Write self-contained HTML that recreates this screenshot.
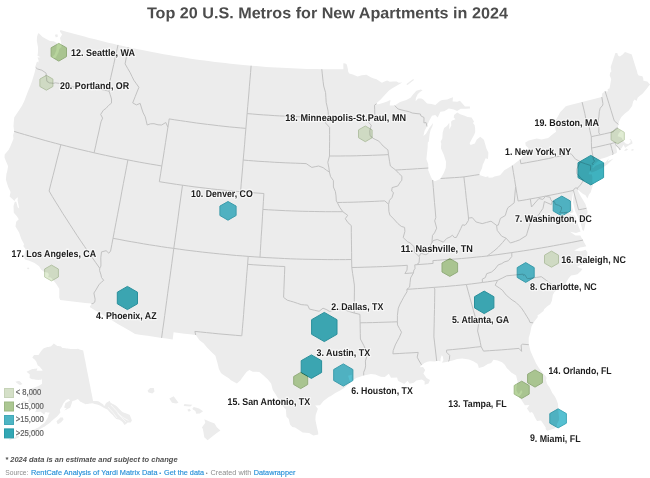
<!DOCTYPE html>
<html><head><meta charset="utf-8"><title>Top 20 U.S. Metros for New Apartments in 2024</title>
<style>
html,body{margin:0;padding:0;background:#fff;}
body{width:650px;height:478px;overflow:hidden;}
svg{display:block;font-family:"Liberation Sans",sans-serif;will-change:transform;}
.hx polygon{mix-blend-mode:multiply;stroke-linejoin:round;}
.lb text{font-size:9.8px;font-weight:bold;fill:#1c1c1c;paint-order:stroke;stroke:rgba(255,255,255,0.6);stroke-width:2.6px;stroke-linejoin:round;}
.lg text{font-size:8.6px;fill:#606060;stroke:#606060;stroke-width:0.2px;}
.ft text{font-size:7.7px;}
.ft .g{fill:#8c8c8c;}
.ft .b{fill:#2690d8;stroke:#2690d8;stroke-width:0.15px;}
.title{font-size:15.8px;font-weight:bold;fill:#4c4c4c;}
.note{font-size:8.1px;font-weight:bold;font-style:italic;fill:#505050;}
</style></head><body>
<svg width="650" height="478" viewBox="0 0 650 478">
<path d="M60.5,30.0L65.3,31.4L70.1,32.7L74.8,34.0L79.6,35.3L84.4,36.6L89.2,37.9L94.0,39.1L98.8,40.3L103.6,41.5L108.4,42.7L113.2,43.8L118.0,44.9L123.0,46.1L128.1,47.2L133.1,48.2L138.2,49.3L143.3,50.3L148.4,51.3L153.5,52.3L158.6,53.3L163.7,54.2L168.8,55.1L173.9,56.0L179.1,56.8L184.2,57.6L189.3,58.4L194.4,59.2L199.6,59.9L204.7,60.6L209.9,61.3L215.0,61.9L220.2,62.5L225.3,63.1L230.5,63.7L235.6,64.2L240.8,64.8L246.0,65.2L251.1,65.7L256.2,66.1L261.2,66.5L266.3,66.9L271.3,67.2L276.4,67.5L281.4,67.8L286.5,68.1L291.5,68.3L296.6,68.5L301.6,68.7L306.7,68.9L311.7,69.0L316.8,69.1L321.8,69.2L326.1,69.2L330.4,69.3L334.8,69.3L339.1,69.3L343.4,69.2L343.3,63.3L345.4,63.4L346.8,64.5L347.9,69.2L348.2,71.7L349.2,73.5L352.8,74.4L357.6,76.4L361.7,75.2L366.4,74.7L371.2,77.5L373.9,78.4L376.5,79.3L379.2,81.0L381.9,82.7L384.5,81.5L387.1,80.4L389.8,81.8L393.2,81.6L396.6,81.4L398.8,82.8L402.3,82.6L398.4,84.8L394.5,87.0L391.9,88.6L389.3,90.2L387.1,92.5L385.0,94.8L380.9,99.3L376.5,103.2L377.6,104.4L380.2,103.8L382.9,103.1L387.1,101.5L390.3,99.9L390.5,101.1L389.9,103.1L389.7,105.6L394.7,105.6L397.4,103.8L400.1,102.0L403.2,101.1L406.3,100.1L410.5,97.8L413.4,94.1L416.4,90.8L420.8,89.5L422.6,90.3L419.7,92.3L417.7,94.3L415.9,98.1L415.6,101.2L418.1,98.4L421.3,98.5L423.2,99.6L427.1,103.5L431.5,103.9L435.4,104.9L437.6,102.9L439.9,101.0L442.2,100.1L447.3,99.4L450.2,98.3L453.0,97.3L452.6,101.6L457.3,101.8L459.9,100.7L462.4,103.6L465.0,106.4L469.9,106.4L470.0,108.5L465.8,108.7L460.8,108.7L457.1,111.1L453.9,109.4L448.8,108.6L444.2,111.3L440.4,111.7L437.7,117.5L435.3,114.9L432.0,115.7L429.2,120.7L426.9,126.5L424.6,130.7L423.4,136.0L426.0,133.7L429.3,127.9L433.1,122.9L432.5,126.0L430.6,130.1L429.6,134.2L428.8,141.4L427.8,142.5L427.6,147.9L427.0,153.6L426.4,159.3L428.2,164.1L428.3,168.0L428.2,170.0L429.7,173.7L431.2,177.4L432.6,180.0L434.9,181.3L439.7,179.2L440.6,178.5L443.9,172.7L445.8,167.7L446.0,161.8L443.8,154.7L440.9,148.3L441.3,143.4L440.6,141.7L442.3,138.5L442.7,132.4L444.1,128.0L446.9,126.1L449.3,122.7L449.3,129.5L451.3,125.6L451.1,121.7L452.2,120.4L455.5,119.2L453.7,117.4L454.1,115.1L457.2,112.5L460.2,114.2L464.0,115.6L467.7,116.9L471.6,117.5L474.1,121.8L472.9,122.9L474.6,125.1L475.1,128.1L475.2,131.9L474.2,134.7L472.1,138.4L469.6,143.3L470.6,145.0L474.8,143.5L476.8,139.4L480.3,136.8L483.9,139.8L485.2,144.3L486.5,148.7L488.4,152.8L488.0,159.0L485.6,158.3L484.3,161.4L482.8,164.4L482.0,168.2L480.4,171.6L479.4,174.5L479.2,175.0L482.5,176.0L485.7,177.0L488.2,176.3L488.6,177.7L492.6,177.6L494.5,176.5L500.1,175.2L504.3,170.3L509.4,167.3L512.3,165.5L516.7,162.0L520.2,159.5L524.4,155.2L527.5,150.9L528.4,148.1L525.7,145.4L525.3,142.6L528.9,140.6L532.8,139.6L536.8,138.6L541.6,139.5L544.9,138.7L548.2,138.0L550.6,135.9L553.0,133.9L556.1,131.8L554.9,127.1L555.7,125.4L552.8,123.1L555.2,120.8L556.6,118.8L558.4,115.5L560.1,112.2L562.8,109.4L565.5,106.5L567.4,105.7L572.3,104.5L577.2,103.3L582.1,102.1L587.0,100.8L592.0,99.6L596.9,98.3L601.8,97.0L602.1,93.5L605.1,91.2L607.8,91.5L607.7,89.0L609.5,88.5L610.6,82.8L611.2,79.0L609.7,75.4L610.1,72.8L611.4,71.4L610.7,66.9L612.3,62.3L613.8,57.7L615.4,53.1L617.3,53.0L618.0,55.4L619.9,56.4L622.7,54.4L625.0,51.9L629.9,53.7L631.8,54.6L633.5,60.2L635.3,65.9L637.1,71.6L637.5,73.7L638.6,75.4L642.4,76.2L643.4,78.9L643.2,80.6L645.7,81.3L647.3,81.4L650.2,84.6L651.0,85.9L649.5,85.0L646.3,89.3L642.5,93.7L640.2,95.6L637.8,97.4L636.5,101.0L634.8,99.6L633.2,101.2L632.1,105.9L628.8,110.6L624.6,113.8L621.2,117.2L619.0,121.4L618.4,124.4L617.9,127.3L617.9,127.8L618.7,130.0L621.2,130.5L618.6,133.4L617.6,136.3L619.3,136.8L621.7,137.8L623.6,141.4L626.0,143.7L628.4,143.9L630.6,142.2L630.6,139.9L629.2,139.0L630.7,138.9L632.2,141.5L632.5,143.5L629.0,145.2L625.5,147.5L625.1,148.1L623.6,144.7L622.0,147.6L620.6,149.6L620.2,149.9L619.5,150.6L618.1,147.9L616.0,145.9L616.6,149.1L617.0,151.4L616.7,153.0L612.6,154.8L609.9,155.8L607.1,157.0L604.1,157.9L601.1,158.7L598.3,161.0L594.7,164.1L593.4,165.0L592.4,167.9L592.8,168.3L595.5,165.7L600.3,163.8L605.5,162.2L609.0,158.3L607.7,161.3L609.9,160.2L613.5,158.6L610.4,161.5L607.3,164.4L604.7,166.2L602.1,168.0L598.9,169.6L595.1,171.3L591.7,172.5L590.4,171.8L590.4,170.5L589.7,171.5L588.5,174.2L590.4,174.6L591.4,174.0L592.3,176.6L592.4,177.9L592.3,180.2L592.9,185.3L591.7,188.9L590.6,192.4L589.1,194.2L587.4,198.6L585.5,195.3L582.8,193.8L580.3,191.8L578.6,190.2L577.6,189.4L578.2,191.5L579.5,194.0L581.0,196.8L583.5,200.8L585.5,204.3L586.8,208.5L587.6,212.0L586.3,218.0L585.2,225.0L584.2,229.5L583.3,231.3L582.3,229.5L580.7,223.0L578.5,218.0L576.5,214.0L575.3,211.5L574.4,208.0L573.0,202.5L573.3,197.5L574.1,191.5L573.3,190.9L572.4,196.5L571.6,202.2L572.3,208.0L573.5,212.0L571.0,213.2L567.5,212.3L571.5,214.8L575.0,215.8L577.3,222.9L579.6,229.0L580.6,231.6L576.0,233.0L570.0,231.8L575.5,235.6L580.3,235.5L581.3,237.5L583.0,240.1L584.3,242.8L586.3,246.2L583.2,246.9L580.0,247.6L577.0,249.1L574.0,250.6L577.5,250.9L581.0,251.2L585.5,249.8L587.3,252.0L587.3,256.0L586.0,260.0L584.5,264.3L580.0,265.3L577.0,266.8L581.0,268.4L582.5,268.8L581.0,271.0L577.5,274.3L574.3,274.9L571.1,275.4L568.5,278.4L566.5,281.7L565.5,287.6L564.6,286.7L561.0,287.5L558.1,289.0L554.3,292.3L552.8,294.9L551.9,300.7L550.3,304.2L547.3,306.3L544.1,309.3L543.5,311.1L539.4,314.2L537.5,315.3L537.8,316.9L535.1,320.5L533.4,322.7L531.4,326.8L530.3,332.6L528.7,337.9L528.7,342.4L528.8,344.7L529.1,345.3L530.5,351.0L533.1,357.0L536.1,363.4L538.4,367.3L540.2,369.8L543.3,373.7L545.3,375.8L546.6,377.8L546.0,380.2L547.1,384.0L549.3,387.1L551.0,390.2L552.3,393.0L554.9,396.5L556.8,400.4L558.0,404.0L558.3,409.5L558.6,413.4L559.1,418.1L559.0,420.2L557.3,423.2L556.5,427.3L553.9,428.8L549.7,430.1L547.3,430.8L545.7,429.3L545.7,427.4L543.4,424.0L541.0,420.6L537.1,420.9L536.2,419.7L534.6,416.7L533.3,413.8L531.9,412.1L529.9,412.8L527.0,408.6L529.4,404.9L524.9,405.2L523.4,403.1L521.3,399.7L518.6,397.0L520.9,394.7L522.4,392.1L521.2,389.9L519.6,393.0L518.2,394.0L516.4,390.3L516.4,387.4L517.2,383.3L517.6,381.7L516.1,375.5L511.2,372.5L508.9,370.1L506.9,368.3L504.8,364.8L502.0,362.3L497.7,360.5L493.5,359.7L491.2,362.9L487.8,364.1L483.4,366.7L478.8,368.0L478.1,365.2L477.4,363.7L473.3,361.3L469.0,359.5L465.6,359.0L462.2,358.5L457.2,359.0L453.5,360.2L448.6,361.4L446.3,362.1L442.0,362.8L443.4,360.0L442.8,356.4L441.7,355.3L440.6,358.6L440.4,361.5L438.7,360.7L436.7,361.0L434.7,361.5L430.0,361.2L427.3,361.7L424.3,363.1L421.9,365.1L419.6,367.3L423.0,367.1L425.2,370.1L423.4,373.4L426.5,378.0L430.0,380.1L428.5,383.5L424.6,384.7L424.6,381.3L421.8,379.4L416.4,380.6L413.8,382.8L409.7,383.8L407.5,380.8L404.3,384.1L398.7,381.2L397.9,380.5L397.1,377.4L391.0,377.7L388.8,373.8L384.8,377.1L380.8,376.8L375.3,374.6L370.8,374.1L367.3,374.8L363.7,375.4L360.0,376.7L356.3,377.9L352.0,380.8L351.6,378.0L351.9,374.8L348.1,375.7L349.6,380.7L351.2,381.9L346.9,385.5L344.2,387.9L340.1,390.6L335.3,393.1L330.5,396.3L329.1,396.7L323.5,400.9L320.0,405.2L315.2,405.6L317.9,408.8L315.7,415.0L315.4,419.7L316.2,423.7L317.0,427.6L318.2,432.8L318.3,434.5L313.3,435.4L309.1,433.0L302.7,432.5L298.9,430.1L295.1,427.6L292.3,427.0L290.0,424.5L288.7,419.1L286.4,416.6L285.9,409.5L281.9,405.1L279.9,401.7L278.0,398.2L275.4,394.1L272.8,390.1L271.1,383.6L267.9,379.5L263.3,375.3L259.4,371.9L256.1,371.8L252.7,371.7L249.4,370.0L246.5,371.9L242.0,377.9L240.5,380.2L236.9,383.4L230.9,380.2L228.8,378.3L223.2,374.8L221.0,372.9L218.9,368.9L217.6,363.5L216.5,359.7L215.4,355.8L211.7,352.3L206.8,347.3L203.8,343.5L199.5,340.3L196.0,335.3L195.7,335.0L190.1,334.3L184.6,333.7L179.1,333.0L173.6,332.3L172.7,339.4L166.4,338.5L160.1,337.7L153.9,336.8L147.6,335.8L141.3,334.9L135.1,333.9L129.3,330.6L123.6,327.3L117.8,324.0L112.2,320.6L106.5,317.2L100.9,313.8L95.3,310.4L89.7,306.9L91.6,303.5L85.3,302.9L79.0,302.2L72.8,301.4L66.5,300.7L60.2,299.9L59.2,297.4L59.3,294.4L59.3,288.7L56.1,283.7L53.8,280.9L50.9,277.6L48.1,277.2L48.9,274.8L48.1,272.8L44.3,272.1L41.0,269.6L39.1,266.3L34.6,263.0L31.7,261.7L28.7,260.4L25.3,259.8L23.6,257.2L24.7,253.2L25.7,249.2L23.3,246.0L24.1,244.3L21.3,238.9L19.1,232.5L17.3,229.5L15.5,226.5L16.2,221.7L18.8,219.2L16.7,216.1L13.8,212.8L13.5,206.0L14.8,201.7L16.2,201.8L17.7,207.2L19.2,208.5L18.2,203.2L17.6,200.6L17.9,197.3L15.5,199.1L14.6,201.0L12.1,198.8L9.6,196.6L10.6,191.9L8.2,187.0L7.0,183.3L5.9,179.6L6.4,174.0L7.1,171.7L8.1,166.2L6.3,161.9L4.5,157.5L4.7,154.4L8.7,149.7L10.5,145.9L13.5,138.7L13.1,135.2L14.2,131.4L13.5,126.2L13.8,121.8L14.2,117.4L16.5,113.9L18.9,110.4L22.1,105.6L24.2,101.2L26.0,96.6L27.7,91.9L29.8,86.9L32.0,81.3L33.3,77.1L34.5,73.0L35.7,67.9L35.2,66.9L37.0,61.4L38.4,62.6L38.6,60.2L37.5,57.4L40.6,57.2L37.5,55.7L38.0,52.0L38.0,47.2L36.8,40.7L37.1,36.4L38.1,33.3L39.4,33.8L42.3,36.7L46.2,38.9L50.0,41.0L53.6,41.3L56.9,43.1L56.6,46.8L56.4,49.9L54.7,54.4L50.9,58.2L55.5,57.9L58.6,52.2L59.2,49.1L61.6,46.9L61.2,42.7L60.0,38.0L62.1,34.5L59.9,31.4L60.5,30.0ZM131.9,420.4L131.0,418.1L130.1,415.7L129.5,414.8L128.2,414.3L126.9,413.8L125.7,413.3L124.1,412.7L122.4,412.1L120.8,410.6L119.3,409.0L117.9,407.5L116.4,405.9L115.2,405.2L114.0,404.5L112.8,403.9L111.6,403.2L110.4,402.6L109.7,400.7L108.5,401.5L107.3,402.2L106.1,402.9L105.5,404.0L104.8,405.2L104.1,406.3L103.5,404.8L102.2,403.8L100.9,402.9L99.7,402.0L98.9,401.6L98.1,401.2L96.9,401.1L95.7,401.0L94.4,400.9L93.1,401.1L92.6,398.5L92.1,395.8L91.5,393.1L91.0,390.4L90.5,387.7L90.0,385.1L89.4,382.4L88.9,379.7L88.4,377.0L87.9,374.4L87.3,371.7L86.8,369.0L86.3,366.4L85.8,363.7L85.3,361.1L84.7,358.4L84.2,355.8L83.7,353.1L83.2,350.5L82.3,350.2L81.4,349.9L80.5,349.7L79.6,349.4L78.7,349.1L77.8,348.8L76.9,348.9L76.0,348.9L75.1,349.0L74.2,349.0L73.3,349.1L72.4,349.0L71.5,348.9L70.6,348.9L69.6,348.8L68.7,348.7L67.9,348.6L67.1,348.5L66.3,348.4L65.5,348.3L64.8,348.2L64.1,348.1L63.4,348.0L62.7,347.9L62.0,347.7L61.5,347.1L61.0,346.4L60.3,346.3L59.5,346.2L58.8,346.1L58.1,346.0L57.3,345.9L56.6,345.4L55.9,344.9L55.2,344.4L54.5,343.9L53.8,343.4L53.1,344.2L52.4,345.0L51.6,345.7L50.9,346.5L50.2,346.6L49.4,346.7L48.7,346.9L47.9,347.0L47.2,347.1L46.2,347.4L45.3,347.7L44.4,348.1L43.5,348.4L42.7,349.3L41.8,350.3L41.0,351.2L40.2,352.5L39.3,353.8L38.5,355.0L37.6,355.0L36.7,355.0L35.8,355.0L35.0,354.9L34.1,354.9L33.2,356.2L32.3,357.5L33.1,358.2L33.9,358.9L34.7,359.6L35.2,360.3L35.8,361.0L36.4,361.7L36.8,362.9L37.2,364.1L37.6,365.2L38.3,365.8L39.0,366.3L39.8,366.8L40.5,367.8L41.3,368.7L42.1,369.6L42.8,370.5L42.3,370.6L41.7,370.7L40.7,370.7L39.7,370.8L38.6,370.8L37.6,370.8L36.6,370.8L37.4,368.4L36.4,368.6L35.5,368.7L34.5,368.8L33.6,368.9L32.6,369.1L31.7,369.2L30.7,369.7L29.7,370.2L28.7,370.8L27.6,371.3L26.6,371.8L27.4,372.5L28.2,373.1L29.0,373.8L29.8,374.4L29.7,376.2L29.6,378.1L30.6,378.5L31.6,379.0L32.7,379.2L33.8,379.3L34.9,379.5L36.0,379.7L37.1,379.8L38.2,379.9L39.3,379.8L40.3,379.8L41.4,379.8L42.0,378.2L42.0,380.7L42.0,383.2L41.9,383.9L40.9,384.6L39.9,385.2L38.8,385.8L37.8,386.2L36.9,386.6L35.9,387.0L34.9,387.4L33.7,387.8L32.6,388.1L31.5,388.5L30.5,390.6L29.5,392.7L28.4,393.0L27.3,393.4L27.0,394.9L27.7,396.2L28.5,397.5L29.2,398.8L28.5,399.8L27.8,400.8L28.6,401.8L29.4,402.8L30.2,403.8L31.0,404.7L32.1,404.8L33.1,404.8L34.1,404.8L35.2,404.8L35.8,405.0L36.5,405.2L36.5,407.0L36.6,408.9L35.9,410.6L35.1,412.3L36.4,412.1L37.7,411.9L39.0,411.7L40.3,411.5L41.3,412.3L42.2,413.1L43.3,413.9L44.3,414.6L44.9,413.3L45.6,411.9L46.6,412.2L47.7,412.4L48.7,412.6L49.8,412.7L49.0,414.1L48.2,415.4L48.5,416.0L47.5,417.9L46.5,419.8L45.6,421.3L44.6,422.7L43.4,423.7L42.1,424.6L40.9,425.6L39.7,426.5L38.4,427.5L37.2,428.1L36.0,428.6L34.8,429.2L33.5,429.7L32.1,430.1L30.6,430.5L29.2,430.8L27.7,431.2L26.2,431.5L24.7,431.8L23.9,433.4L25.1,433.4L26.4,433.5L27.7,433.5L28.9,433.6L30.4,433.1L31.8,432.7L33.3,432.2L34.6,431.6L35.9,431.1L37.2,430.5L38.5,429.9L39.8,429.3L41.1,428.6L42.4,427.8L43.7,427.1L44.9,426.4L46.0,425.6L47.1,424.8L48.2,424.1L49.3,423.3L50.5,422.2L51.6,421.1L52.8,420.1L53.9,419.0L54.9,418.3L55.8,417.5L56.8,416.8L58.0,415.4L59.2,414.0L60.4,412.6L60.1,411.1L59.9,409.6L60.6,408.5L61.4,407.4L62.1,406.2L62.8,404.5L63.6,402.9L64.5,401.9L65.3,400.9L66.1,400.0L67.0,399.7L67.9,399.3L68.7,399.0L69.4,399.8L70.1,400.6L69.0,401.2L67.8,401.8L66.7,402.5L65.5,403.1L64.8,405.2L64.1,407.4L65.3,407.9L66.5,408.3L65.3,409.5L64.1,410.6L65.4,410.0L66.6,409.4L67.9,408.8L69.1,408.2L70.3,407.5L71.0,405.4L71.7,403.4L72.3,401.3L73.5,400.8L74.6,400.4L75.7,399.9L76.8,399.5L77.9,399.0L79.2,400.4L80.4,401.8L81.7,402.3L83.0,402.9L84.2,403.5L85.4,404.2L86.5,404.1L87.6,403.9L88.8,403.8L89.9,403.6L91.0,403.5L92.1,403.3L93.4,403.6L94.6,403.9L95.9,404.2L97.2,404.5L98.5,405.1L99.9,405.6L101.2,406.2L102.2,406.8L103.2,407.4L104.7,408.2L106.2,408.9L107.7,409.7L109.1,411.6L110.3,412.8L111.5,414.0L112.8,415.1L113.9,416.4L115.1,417.7L116.3,419.0L117.5,419.3L118.7,419.6L119.9,419.9L121.2,420.9L122.5,422.0L123.5,423.5L124.5,425.1L125.6,424.2L126.6,423.4L127.6,422.5L129.2,422.6L130.7,422.6ZM63.5,419.5L62.9,417.6L61.6,417.6L60.3,417.6L59.0,418.9L57.8,420.1L56.5,421.3L57.1,422.8L57.6,424.3L58.8,423.7L60.0,423.0L61.2,422.3ZM204.3,419.2L209.4,421.4L214.6,423.5L216.8,427.3L220.4,430.6L216.8,433.1L213.2,435.7L207.6,440.3L204.3,437.3L203.6,433.0L202.8,428.7L201.9,427.4L205.3,422.7ZM192.5,408.2L193.9,407.0L199.1,408.4L203.1,411.3L199.8,413.4L196.2,413.7L195.4,410.9L192.8,409.5ZM183.7,405.9L184.4,404.0L188.4,404.4L192.5,404.8L190.3,406.6ZM187.3,409.8L189.5,408.7L191.0,410.6L188.8,411.7ZM169.3,398.4L173.7,396.3L176.1,399.5L178.5,402.7L176.2,403.5L172.0,402.7ZM147.5,390.7L150.1,387.9L153.8,388.1L154.5,391.6L152.3,393.6L148.6,392.6ZM624.0,151.0L626.1,148.6L628.1,149.2L626.6,150.6ZM630.7,150.1L632.9,149.1L634.1,150.0L632.1,150.8ZM26.8,267.9L28.5,267.5L29.5,268.9L27.8,269.2ZM54.9,34.8L57.3,34.2L58.0,36.6L55.8,37.5ZM406.3,84.2L409.8,81.6L413.3,79.0L413.9,79.9L410.7,82.5L407.5,85.1ZM19.2,435.9L18.6,437.5L16.9,438.3L15.3,439.1L14.3,438.9L13.4,438.7L14.5,437.7L15.5,436.7L16.6,435.7ZM13.3,437.5L12.7,438.8L11.0,439.6L9.3,440.3L8.9,439.9L10.3,438.5L11.7,437.2ZM15.5,381.6L16.8,381.4L18.0,381.1L19.2,380.9L20.0,381.6L20.9,382.4L21.7,383.2L22.5,383.9L21.3,384.5L20.0,385.0L18.9,384.4L17.9,383.7L16.9,383.0L15.9,382.3ZM22.2,401.5L23.4,401.3L24.5,401.2L25.6,401.0L26.1,402.2L26.5,403.4L25.3,404.3L24.3,403.9L23.2,403.4L22.2,402.9Z" fill="#ececec" stroke="none" fill-rule="evenodd"/>
<path d="M108,407L113,412.5L117,418M111,405L116.5,411L121.5,417.5L126,422M117.5,413.5L123,417.5L128.5,420.5" fill="none" stroke="#fff" stroke-width="0.8" stroke-opacity="0.75"/>
<path d="M35.8,67.6L37.7,69.0L41.8,70.2L46.1,73.1L46.2,76.5L46.5,77.4L46.9,81.3L49.5,82.9L53.9,83.3L55.2,82.8L59.4,83.4L62.5,85.9L65.6,85.6L68.7,85.4L73.3,87.0L76.9,86.3L80.4,85.6L83.3,86.1L87.3,86.0L91.6,87.1L96.0,88.1L100.3,89.2L104.7,90.2L109.1,91.2M109.1,91.2L110.2,94.7L111.5,99.0L111.5,103.1L108.4,105.6L106.1,108.3L103.4,110.2L100.7,114.4L102.6,118.1L101.0,121.8L100.3,124.9L98.8,131.9L97.2,138.8L95.7,145.8L94.1,152.8M118.0,44.9L116.6,51.5L115.1,58.0L113.7,64.5L112.2,71.1L110.7,77.7L109.3,84.3L109.2,86.4L109.6,88.9L109.1,91.2M128.1,47.2L127.1,52.6L126.2,58.0L125.1,63.9L127.6,68.3L130.2,72.7L132.0,76.5L133.9,80.3L136.4,83.8L138.9,87.3L137.0,92.0L135.2,96.6L132.7,102.9L136.4,104.9L140.2,103.4L141.5,108.0L143.2,112.9L145.2,116.7L146.2,120.8L147.2,125.0L150.5,123.8L154.0,123.7L158.0,124.8L161.6,125.0L165.8,122.5L167.9,127.2M169.2,118.9L168.6,123.1L167.9,127.2L166.7,135.0L165.5,142.7L164.3,150.5L163.1,158.2L161.8,166.0L160.6,173.8L159.3,181.7M169.2,118.9L174.7,119.8L180.2,120.6L185.6,121.4L191.1,122.2L196.5,123.0L202.0,123.7L207.5,124.4L213.0,125.0L218.4,125.7L223.9,126.3L229.4,126.9L234.9,127.4L240.4,127.9L245.9,128.4M251.1,65.7L250.6,72.5L250.0,79.3L249.4,86.2L248.9,93.0L248.3,99.9L247.7,106.7L247.1,113.6L246.5,121.0L245.9,128.4L245.2,136.3L244.6,144.2L243.9,152.1L243.2,160.0L242.6,167.9L241.9,175.9L241.2,183.8L240.6,191.7M247.1,113.6L252.5,114.0L258.0,114.5L263.4,114.9L268.8,115.2L274.2,115.6L279.6,115.9L285.1,116.1L290.5,116.4L295.9,116.6L301.3,116.8L306.8,117.0L312.2,117.1L317.6,117.2L323.1,117.3L328.5,117.3M243.2,160.0L248.5,160.5L253.7,160.9L258.9,161.3L264.2,161.6L269.4,161.9L274.7,162.3L279.9,162.5L285.2,162.8L290.4,163.0L295.7,163.2L300.9,163.4L306.2,163.6L309.0,165.5L311.8,167.4L315.2,166.7L318.6,166.0L323.2,167.7L326.6,170.3L329.4,172.0M329.4,172.0L328.9,167.9L327.8,162.3L329.5,156.0L329.5,148.8L329.6,141.7L329.6,134.6L329.6,127.4L325.3,122.7L328.3,119.2L328.5,117.3L328.1,111.2L327.2,106.8L326.2,102.5L325.9,97.6L325.6,92.7L323.7,86.0L323.1,81.5L322.6,77.0L322.2,73.1L321.8,69.2M329.5,156.0L334.9,156.0L340.2,156.0L345.6,155.9L351.0,155.9L356.3,155.8L361.7,155.6L367.0,155.5L372.4,155.3L377.8,155.1L383.1,154.9L388.5,154.6M388.5,154.6L387.9,149.9L383.2,146.1L381.0,143.6L378.8,141.1L375.9,139.7L373.1,138.3L370.0,135.6L369.8,130.7L371.3,125.2L368.7,122.6L370.5,118.9L374.8,114.5L374.7,109.8L374.5,105.2L376.5,103.7M394.7,105.6L398.1,109.0L401.9,110.0L405.6,110.9L409.4,111.8L412.2,113.0L416.0,113.5L420.4,114.0L420.9,115.9L424.0,117.5L423.9,122.8L426.1,122.6L427.0,126.5M395.9,170.0L401.3,169.7L406.7,169.4L412.1,169.1L417.5,168.7L422.9,168.4L428.3,168.0M388.5,154.6L389.6,161.7L390.4,166.0L393.1,168.1L395.8,170.1L398.6,173.2L401.9,176.2L401.8,180.2L400.5,181.8L397.8,186.0L395.0,186.8L392.1,187.6L391.7,191.1L393.5,192.6L392.0,197.5L389.5,200.3L388.6,204.3L388.9,211.5L389.9,215.1L393.7,218.9L397.8,223.5L401.3,226.4L404.6,227.4L404.9,231.4L403.2,237.6L407.7,241.8L410.0,242.8L414.2,246.8L414.3,252.1L419.2,256.5M419.2,256.5L419.5,257.3L419.0,262.9L416.4,264.7L414.8,264.8L415.0,268.8L413.9,270.0L413.4,272.9L410.6,277.9L410.1,282.5L409.6,287.1L406.9,289.3L407.0,291.7L403.7,297.2L401.9,300.6L400.0,304.1L398.3,308.2L397.4,315.4L397.4,321.8L397.5,324.9L399.5,328.6L401.5,332.2L399.2,337.6L397.2,341.3L395.3,344.9L393.2,350.6L392.9,353.8M392.9,353.8L399.2,353.5L405.6,353.1L411.9,352.8L418.2,352.4L417.2,357.2L419.2,361.0L421.5,364.8M337.3,202.5L342.6,202.4L347.8,202.3L353.1,202.2L358.4,202.0L363.7,201.8L369.0,201.6L374.2,201.4L379.5,201.1L384.8,200.9L388.6,204.3M329.4,172.0L330.6,176.7L333.4,180.6L333.4,187.0L335.4,191.6L336.0,195.8L336.3,200.9L337.3,202.5L339.9,207.6L342.8,211.7L347.7,215.3L345.3,218.7L347.8,222.5L351.3,225.6L351.3,232.4L351.4,239.2L351.5,245.9L351.6,252.7L351.6,259.5L351.8,267.5L352.6,273.4L353.5,279.2L354.4,285.1L354.4,292.1L354.3,299.1L354.3,306.1L354.2,313.0M262.9,209.4L268.6,209.8L274.3,210.1L280.0,210.4L285.7,210.7L291.4,210.9L297.1,211.1L302.8,211.3L308.5,211.4L314.2,211.5L319.9,211.6L325.6,211.7L331.3,211.7L337.1,211.7L342.8,211.7M263.9,193.5L263.4,201.5L262.9,209.4L262.5,216.2L262.1,223.1L261.7,229.9L261.2,236.7L260.8,243.6L260.4,250.4L260.0,257.2M159.3,181.7L165.1,182.6L170.9,183.5L176.7,184.4L182.5,185.2L188.3,186.0L194.1,186.8L199.9,187.5L205.7,188.2L211.5,188.9L217.3,189.5L223.1,190.1L228.9,190.7L234.7,191.2L240.6,191.7L246.4,192.2L252.2,192.7L258.1,193.1L263.9,193.5M14.2,131.4L19.3,133.0L24.5,134.5L29.7,136.0L34.8,137.5L40.0,139.0L45.2,140.5L50.4,141.9L55.6,143.3L60.9,144.7L66.4,146.1L71.9,147.5L77.5,148.9L83.0,150.2L88.6,151.5L94.1,152.8L99.8,154.1L105.4,155.3L111.0,156.5L116.6,157.7L122.2,158.8L127.9,159.9L133.5,161.0L139.2,162.1L144.8,163.1L150.5,164.1L156.2,165.0L161.8,166.0M182.5,185.2L181.4,193.1L180.3,201.0L179.2,208.9L178.2,216.8L177.1,224.7L176.0,232.6L174.9,240.5L173.8,248.4L172.8,255.9L171.8,263.4L170.8,270.8L169.8,278.3L168.7,285.8L167.7,293.2L166.7,300.7L165.7,308.1L164.7,315.6L163.7,323.0L162.6,330.4L161.6,337.9M127.9,159.9L126.4,167.8L124.9,175.6L123.4,183.4L121.9,191.2L120.5,199.1L119.0,206.9L117.5,214.8L116.0,222.6L114.5,230.4L113.0,238.3L111.8,244.6L110.6,251.0L108.8,253.2L106.1,250.7L101.5,251.9L100.8,257.8L100.9,262.0L100.9,266.1L99.7,268.2M60.9,144.7L58.9,152.4L56.9,160.1L55.0,167.8L53.0,175.6L51.0,183.3L49.1,191.0L52.4,196.6L55.8,202.2L59.3,207.7L62.7,213.3L66.3,218.8L69.8,224.3L73.4,229.8L77.0,235.4L80.7,240.9L84.4,246.3L88.2,251.8L92.0,257.3L95.8,262.7L99.7,268.2M99.7,268.2L99.6,270.6L101.0,274.9L101.5,277.5L103.7,280.3L101.4,282.3L99.2,284.3L95.8,290.1L93.9,293.0L95.1,299.2L94.8,302.1L92.9,303.6L91.6,303.5M113.0,238.3L119.1,239.4L125.1,240.6L131.2,241.7L137.3,242.7L143.4,243.8L149.4,244.8L155.5,245.7L161.6,246.7L167.7,247.6L173.8,248.4L179.5,249.2L185.2,250.0L190.9,250.7L196.7,251.4L202.4,252.1L208.1,252.7L213.8,253.3L219.5,253.9L225.2,254.4L231.0,255.0L236.7,255.5L242.4,255.9L248.2,256.4L254.1,256.8L260.0,257.2L266.1,257.6L272.2,257.9L278.3,258.2L284.4,258.5L290.5,258.8L296.6,259.0L302.7,259.2L308.9,259.3L315.0,259.4L321.1,259.5L327.2,259.6L333.3,259.6L339.4,259.6L345.5,259.6L351.6,259.5M248.2,256.4L247.6,264.3L247.0,271.5L246.4,278.7L245.9,285.8L245.3,293.0L244.7,300.1L244.1,307.3L243.6,314.4L243.0,321.5L242.4,328.7L241.8,335.8M247.6,264.3L253.8,264.8L260.0,265.2L266.2,265.6L272.4,265.9L278.6,266.3L284.8,266.5L284.5,274.3L284.2,282.0L283.9,289.7L283.6,297.4L287.3,300.2L290.4,301.1L293.6,302.0L297.4,303.3L301.2,304.6L304.4,304.9L307.6,305.1L309.5,309.1L314.3,310.2L319.1,311.3L323.0,308.2L326.9,309.8L329.4,311.4L332.7,310.5L335.9,309.5L339.7,309.4L343.6,309.3L348.8,311.4L354.2,313.0L359.9,314.4L360.0,318.6L360.1,322.8L360.2,328.2L360.3,333.6L360.4,339.0L363.7,345.3L366.5,351.6L367.3,354.7L365.4,361.1L365.6,365.9L365.0,369.0L363.7,372.2L363.7,375.4M360.1,322.8L366.3,322.7L372.5,322.6L378.8,322.4L385.0,322.2L391.2,322.0L397.4,321.8M241.6,335.8L235.7,335.3L229.9,334.8L224.0,334.3L218.2,333.8L212.4,333.2L206.5,332.6L200.7,332.0L194.9,331.4L195.7,335.0M351.8,267.5L357.9,267.4L364.1,267.2L370.3,267.0L376.5,266.8L382.6,266.6L388.8,266.3L395.0,266.0L401.1,265.7L407.3,265.3L407.0,270.1L404.9,273.5L409.2,273.2L413.4,272.9M416.4,264.7L422.0,264.3L427.5,263.9L433.1,263.4L432.9,260.6L437.7,260.3L442.6,259.9L447.5,259.6L452.3,259.2L457.0,258.9L461.6,258.5L466.3,258.1L470.9,257.7L476.3,257.1L481.8,256.6L487.2,256.0L492.1,255.3L497.1,254.7L502.0,254.0L506.9,253.3L511.8,252.6L517.8,251.7L523.7,250.8L529.7,249.9L535.6,248.9L541.6,247.9L547.5,246.9L553.4,245.8L559.3,244.7L565.2,243.6L571.2,242.5L577.1,241.3L583.0,240.1M511.8,252.6L511.8,256.5L508.4,260.7L504.1,262.0L501.8,263.6L498.2,264.9L495.0,269.1L491.6,272.0L486.7,273.7L485.3,277.6L482.3,279.1L482.4,282.5M406.9,289.3L412.2,289.0L417.5,288.6L422.8,288.3L428.1,287.8L433.4,287.4L438.9,287.0L444.4,286.6L449.9,286.1L455.4,285.6L460.8,285.1L466.3,284.5L471.7,283.9L477.1,283.2L482.4,282.5L487.5,281.8L492.6,281.1L497.6,280.3M497.6,280.3L502.2,278.1L506.7,275.8L512.2,275.3L517.7,274.7L523.2,274.1L523.5,275.6L524.7,274.6L527.3,278.7L532.0,278.1L536.6,277.4L541.3,276.7L546.9,280.8L552.4,284.9L558.1,289.0M497.6,280.3L495.2,285.2L499.5,288.1L502.3,290.1L506.3,295.2L509.2,297.6L512.1,300.0L515.8,302.3L518.4,304.9L521.1,307.5L524.5,312.6L526.7,316.2L529.0,319.9L530.0,322.5L533.2,322.8M528.8,344.7L522.6,344.2L521.1,345.2L521.6,351.4L519.0,348.4L513.1,348.9L507.2,349.4L501.3,349.9L495.3,350.3L489.4,350.7L483.5,351.1L481.1,346.6L475.4,347.2L469.6,347.9L463.9,348.5L458.1,349.0L452.3,349.6L446.6,350.1L446.5,352.2L449.7,355.4L449.4,359.4L448.6,361.4M481.1,346.6L480.3,342.3L479.4,338.0L477.6,331.0L478.7,323.3L475.4,317.3L473.5,310.8L471.7,304.2L469.9,297.7L468.1,291.1L466.3,284.5M433.4,287.4L434.8,288.9L434.7,295.8L434.6,302.6L434.5,309.5L434.3,316.3L434.2,323.2L434.0,330.0L433.9,336.9L434.6,342.9L435.3,348.9L436.0,355.0L436.7,361.0M419.2,256.5L420.8,253.2L425.8,254.7L428.2,253.4L430.9,248.1L430.8,244.4L431.9,242.7L433.3,240.5L437.3,239.5L440.3,240.8L443.3,242.2L446.6,238.5L450.1,237.0L452.4,235.2L454.2,237.4L456.3,237.5L458.8,232.6L460.7,228.7L462.5,224.8L465.0,225.3L466.2,224.0L468.4,220.5L468.5,218.1L472.3,217.6L476.1,222.0L479.2,222.8L482.2,223.6L486.6,222.4L491.0,221.2L493.8,223.3L496.6,225.4L498.3,225.1L500.4,218.4L505.3,215.5L506.9,210.1L507.9,207.7L511.1,205.3L514.2,202.8L514.8,195.9L515.2,191.0L515.7,186.6M496.6,225.4L497.2,230.4L501.7,236.2L506.1,238.2L502.6,242.5L498.3,247.2L493.8,251.1L490.5,253.5L487.2,256.0M506.1,238.2L510.4,243.0L515.7,241.3L519.6,239.9L523.0,237.7L526.4,235.6L527.0,233.4L529.1,226.5L530.4,222.4L531.4,217.2L536.6,217.9L540.1,212.6L543.0,208.3L544.4,201.5L547.9,203.1L551.4,204.6L552.1,201.3M552.1,201.3L550.8,199.8L550.1,197.2L545.5,196.4L542.8,199.4L538.9,198.5L535.8,202.0L531.5,207.0L530.9,203.0L530.3,198.9M518.1,201.0L522.1,200.4L526.2,199.7L530.3,198.9L535.7,198.0L541.1,197.0L546.5,195.9L551.9,194.9L557.2,193.8L562.6,192.7L568.0,191.6L573.4,190.4M518.1,201.0L516.9,193.8L515.7,186.6L514.6,179.5L513.4,172.5L512.3,165.5M577.4,188.2L575.8,187.9L574.2,188.9L573.4,190.4L575.1,196.9L576.9,203.4L578.6,209.8L582.5,209.1L586.4,208.3M586.2,218.6L582.7,219.1L579.2,219.5M567.5,212.3L563.6,212.6L559.7,212.8L561.4,209.6L561.5,207.1L558.6,205.3L555.3,204.3L554.5,201.7L552.1,201.3M577.7,189.5L577.4,188.2L580.3,185.1L583.6,180.3L580.9,178.3L578.9,175.6L576.9,173.8L576.8,169.2L578.6,165.1L580.4,162.0L579.5,161.1L575.5,159.2L571.7,154.4L570.8,153.8L565.2,155.0L559.7,156.2L554.2,157.3L548.6,158.5L543.1,159.6L537.6,160.7L532.0,161.7L526.4,162.7L520.9,163.7L520.2,159.5M580.4,162.0L585.5,163.8L590.7,165.5L590.4,170.5M593.4,165.0L592.2,163.5L594.7,161.1L593.5,159.9L592.5,154.0L591.5,148.1L591.4,142.4L591.3,136.7L589.9,130.5L588.6,124.3L586.7,123.9L585.8,118.8L584.9,113.8L583.5,107.9L582.1,102.1M591.5,148.1L596.2,147.1L601.0,146.0L605.7,144.9L610.5,143.8L615.1,142.5L615.6,144.4L616.7,146.1L618.6,147.4L620.2,149.9M610.5,143.8L611.7,148.6L613.0,153.3L612.6,154.8M591.3,136.7L595.8,135.7L600.4,134.8L604.7,133.8L609.0,132.8L613.3,131.9L613.7,131.1L615.9,128.3L617.9,127.8M600.4,134.8L598.8,132.8L598.9,128.6L598.3,122.7L598.3,120.2L598.9,116.8L599.3,111.7L600.2,108.2L602.8,105.1L602.9,103.4L601.8,97.0M618.4,124.4L614.3,120.9L613.1,117.1L611.0,110.3L608.9,103.4L607.0,97.3L605.1,91.2M468.5,218.1L467.8,211.2L467.0,204.4L466.2,197.5L465.5,190.6L464.7,183.8L463.9,176.9M440.6,178.5L445.3,178.2L449.9,177.9L454.6,177.6L459.3,177.3L463.9,176.9L469.1,176.1L474.2,175.3L479.4,174.5M431.9,242.7L432.5,235.4L434.5,232.9L436.7,228.2L434.7,220.8L435.8,217.5L435.2,210.0L434.5,202.5L433.9,195.0L433.3,187.5L432.6,180.0" fill="none" stroke="#c2c2c2" stroke-width="1" stroke-linejoin="round"/>
<g class="hx">
<polygon points="46.4,75.3 52.9,79.1 52.9,86.5 46.4,90.2 39.9,86.5 39.9,79.1" fill="rgb(224,236,211)" stroke="rgb(194,209,178)" stroke-width="1"/>
<polygon points="617.7,128.4 624.3,132.3 624.3,139.9 617.7,143.8 611.1,139.9 611.1,132.3" fill="rgb(224,236,211)" stroke="rgb(194,209,178)" stroke-width="1"/>
<polygon points="365.3,126.0 372.1,129.9 372.1,137.7 365.3,141.7 358.5,137.7 358.5,129.9" fill="rgb(224,236,211)" stroke="rgb(194,209,178)" stroke-width="1"/>
<polygon points="51.5,265.1 58.4,269.0 58.4,277.0 51.5,280.9 44.6,277.0 44.6,269.0" fill="rgb(224,236,211)" stroke="rgb(194,209,178)" stroke-width="1"/>
<polygon points="551.5,251.1 558.5,255.2 558.5,263.2 551.5,267.2 544.5,263.2 544.5,255.2" fill="rgb(224,236,211)" stroke="rgb(194,209,178)" stroke-width="1"/>
<polygon points="300.7,372.4 307.7,376.5 307.7,384.5 300.7,388.6 293.7,384.5 293.7,376.5" fill="rgb(183,212,156)" stroke="rgb(158,186,133)" stroke-width="1"/>
<polygon points="535.0,369.9 542.4,374.2 542.4,382.8 535.0,387.1 527.6,382.8 527.6,374.2" fill="rgb(183,212,156)" stroke="rgb(158,186,133)" stroke-width="1"/>
<polygon points="521.7,381.2 529.2,385.5 529.2,394.1 521.7,398.4 514.2,394.1 514.2,385.5" fill="rgb(183,212,156)" stroke="rgb(158,186,133)" stroke-width="1"/>
<polygon points="58.8,43.4 66.5,47.8 66.5,56.6 58.8,61.1 51.1,56.6 51.1,47.8" fill="rgb(183,212,156)" stroke="rgb(158,186,133)" stroke-width="1"/>
<polygon points="449.8,258.6 457.6,263.0 457.6,272.0 449.8,276.4 442.0,272.0 442.0,263.0" fill="rgb(183,212,156)" stroke="rgb(158,186,133)" stroke-width="1"/>
<polygon points="228.0,201.5 236.1,206.1 236.1,215.5 228.0,220.2 219.9,215.5 219.9,206.1" fill="rgb(85,192,209)" stroke="rgb(64,168,185)" stroke-width="1"/>
<polygon points="558.1,408.8 566.4,413.6 566.4,423.2 558.1,427.9 549.8,423.2 549.8,413.6" fill="rgb(85,192,209)" stroke="rgb(64,168,185)" stroke-width="1"/>
<polygon points="525.7,262.6 534.2,267.6 534.2,277.4 525.7,282.4 517.2,277.4 517.2,267.6" fill="rgb(85,192,209)" stroke="rgb(64,168,185)" stroke-width="1"/>
<polygon points="561.8,196.1 570.4,201.0 570.4,211.0 561.8,215.9 553.2,211.0 553.2,201.0" fill="rgb(85,192,209)" stroke="rgb(64,168,185)" stroke-width="1"/>
<polygon points="343.3,363.9 352.9,369.5 352.9,380.5 343.3,386.1 333.7,380.5 333.7,369.5" fill="rgb(85,192,209)" stroke="rgb(64,168,185)" stroke-width="1"/>
<polygon points="484.2,291.1 493.9,296.7 493.9,307.9 484.2,313.6 474.5,307.9 474.5,296.7" fill="rgb(63,178,191)" stroke="rgb(45,155,168)" stroke-width="1"/>
<polygon points="127.4,286.4 137.5,292.2 137.5,303.8 127.4,309.6 117.3,303.8 117.3,292.2" fill="rgb(63,178,191)" stroke="rgb(45,155,168)" stroke-width="1"/>
<polygon points="311.4,354.9 321.6,360.7 321.6,372.5 311.4,378.4 301.2,372.5 301.2,360.7" fill="rgb(63,178,191)" stroke="rgb(45,155,168)" stroke-width="1"/>
<polygon points="324.3,312.4 337.0,319.7 337.0,334.3 324.3,341.6 311.6,334.3 311.6,319.7" fill="rgb(63,178,191)" stroke="rgb(45,155,168)" stroke-width="1"/>
<polygon points="590.8,155.4 603.6,162.8 603.6,177.6 590.8,184.9 578.0,177.6 578.0,162.8" fill="rgb(63,178,191)" stroke="rgb(45,155,168)" stroke-width="1"/>
</g>
<g class="lb" transform="rotate(0.03,325,239)">
<text x="505.0" y="155.0" textLength="66.1" lengthAdjust="spacingAndGlyphs">1. New York, NY</text>
<text x="331.4" y="310.3" textLength="52.0" lengthAdjust="spacingAndGlyphs">2. Dallas, TX</text>
<text x="316.6" y="355.8" textLength="53.6" lengthAdjust="spacingAndGlyphs">3. Austin, TX</text>
<text x="96.1" y="318.9" textLength="60.6" lengthAdjust="spacingAndGlyphs">4. Phoenix, AZ</text>
<text x="452.0" y="323.0" textLength="57.2" lengthAdjust="spacingAndGlyphs">5. Atlanta, GA</text>
<text x="351.4" y="393.7" textLength="61.5" lengthAdjust="spacingAndGlyphs">6. Houston, TX</text>
<text x="515.0" y="221.6" textLength="76.8" lengthAdjust="spacingAndGlyphs">7. Washington, DC</text>
<text x="530.0" y="289.8" textLength="66.8" lengthAdjust="spacingAndGlyphs">8. Charlotte, NC</text>
<text x="530.0" y="441.4" textLength="50.7" lengthAdjust="spacingAndGlyphs">9. Miami, FL</text>
<text x="191.1" y="196.7" textLength="61.6" lengthAdjust="spacingAndGlyphs">10. Denver, CO</text>
<text x="400.8" y="251.8" textLength="72.0" lengthAdjust="spacingAndGlyphs">11. Nashville, TN</text>
<text x="71.0" y="55.8" textLength="63.9" lengthAdjust="spacingAndGlyphs">12. Seattle, WA</text>
<text x="448.3" y="406.5" textLength="58.4" lengthAdjust="spacingAndGlyphs">13. Tampa, FL</text>
<text x="548.6" y="373.6" textLength="63.1" lengthAdjust="spacingAndGlyphs">14. Orlando, FL</text>
<text x="227.7" y="404.8" textLength="82.5" lengthAdjust="spacingAndGlyphs">15. San Antonio, TX</text>
<text x="561.2" y="263.0" textLength="64.8" lengthAdjust="spacingAndGlyphs">16. Raleigh, NC</text>
<text x="11.6" y="257.2" textLength="84.5" lengthAdjust="spacingAndGlyphs">17. Los Angeles, CA</text>
<text x="285.2" y="121.4" textLength="120.8" lengthAdjust="spacingAndGlyphs">18. Minneapolis-St.Paul, MN</text>
<text x="534.4" y="125.9" textLength="64.4" lengthAdjust="spacingAndGlyphs">19. Boston, MA</text>
<text x="59.9" y="89.4" textLength="69.2" lengthAdjust="spacingAndGlyphs">20. Portland, OR</text>
</g>
<g>
<rect x="4.5" y="388.5" width="9" height="9" fill="rgb(213,224,200)" stroke="rgb(198,211,184)" stroke-width="1"/>
<rect x="4.5" y="402.0" width="9" height="9" fill="rgb(172,199,146)" stroke="rgb(156,184,131)" stroke-width="1"/>
<rect x="4.5" y="415.5" width="9" height="9" fill="rgb(78,181,196)" stroke="rgb(66,168,183)" stroke-width="1"/>
<rect x="4.5" y="428.9" width="9" height="9" fill="rgb(50,167,180)" stroke="rgb(40,154,167)" stroke-width="1"/>
</g>
<g class="lg">
<text x="15.8" y="395.2" textLength="25.5" lengthAdjust="spacingAndGlyphs">&lt; 8,000</text>
<text x="15.8" y="408.8" textLength="28.0" lengthAdjust="spacingAndGlyphs">&lt;15,000</text>
<text x="15.8" y="422.3" textLength="28.0" lengthAdjust="spacingAndGlyphs">&gt;15,000</text>
<text x="15.8" y="435.6" textLength="28.0" lengthAdjust="spacingAndGlyphs">&gt;25,000</text>
</g>
<text class="title" transform="rotate(0.03,325,12)" x="146.9" y="18.3" textLength="361" lengthAdjust="spacingAndGlyphs">Top 20 U.S. Metros for New Apartments in 2024</text>
<text class="note" x="5.2" y="461.8" textLength="172.4" lengthAdjust="spacingAndGlyphs">* 2024 data is an estimate and subject to change</text>
<g class="ft">
<text x="5.2" y="475.0" textLength="23.2" lengthAdjust="spacingAndGlyphs" class="g">Source:</text>
<text x="30.9" y="475.0" textLength="126.6" lengthAdjust="spacingAndGlyphs" class="b">RentCafe Analysis of Yardi Matrix Data</text>
<text x="159.3" y="474.6" class="b" style="font-size:5.5px">•</text><text x="164.0" y="475.0" textLength="40.0" lengthAdjust="spacingAndGlyphs" class="b">Get the data</text>
<text x="205.7" y="474.6" class="g" style="font-size:5.5px">•</text><text x="210.5" y="475.0" textLength="40.9" lengthAdjust="spacingAndGlyphs" class="g">Created with</text>
<text x="253.8" y="475.0" textLength="41.6" lengthAdjust="spacingAndGlyphs" class="b">Datawrapper</text>
</g>
</svg>
</body></html>
